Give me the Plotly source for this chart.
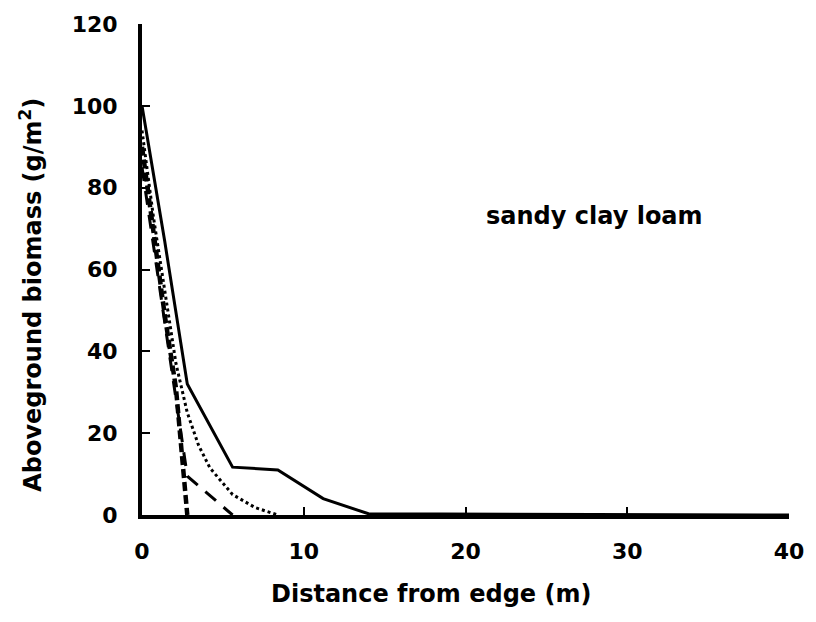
import plotly.graph_objects as go

# Distance from edge (m) and aboveground biomass (g/m^2)
solid_x = [0, 1.4, 2.8, 5.6, 8.4, 11.2, 14, 40]
solid_y = [100, 67, 32, 11.7, 11, 4, 0.3, 0]

dotted_x = [0, 0.7, 1.4, 2.1, 2.8, 3.5, 4.2, 5.6, 7.0, 8.4]
dotted_y = [94, 73, 55, 37, 25, 17, 11.5, 5, 1.8, 0]

heavy_x = [0, 0.7, 1.4, 2.1, 2.8]
heavy_y = [90, 69, 49, 31, 0]

long_x = [0, 0.7, 1.4, 2.1, 2.8, 5.6]
long_y = [85, 66, 47, 28, 9.5, 0]

x_ticks = [0, 10, 20, 30, 40]
y_ticks = [0, 20, 40, 60, 80, 100, 120]

FONT = "DejaVu Sans"

fig = go.Figure()
fig.add_trace(go.Scatter(x=long_x, y=long_y, mode="lines",
                         line=dict(color="black", width=3, dash="14px,10px")))
fig.add_trace(go.Scatter(x=heavy_x, y=heavy_y, mode="lines",
                         line=dict(color="black", width=4.5, dash="9px,4px")))
fig.add_trace(go.Scatter(x=dotted_x, y=dotted_y, mode="lines",
                         line=dict(color="black", width=3, dash="dot")))
fig.add_trace(go.Scatter(x=solid_x, y=solid_y, mode="lines",
                         line=dict(color="black", width=3)))

fig.update_layout(
    width=816, height=622,
    margin=dict(l=142, r=21, t=20, b=107),
    paper_bgcolor="white", plot_bgcolor="white",
    showlegend=False,
    font=dict(family=FONT, color="black"),
    xaxis=dict(range=[0, 40], tickvals=x_ticks, ticks="inside", ticklen=8,
               tickwidth=2, tickcolor="black", showline=True, linewidth=4,
               linecolor="black", showgrid=False, zeroline=False,
               tickfont=dict(family=FONT, size=22, color="black", weight="bold"),
               ticklabelstandoff=14),
    yaxis=dict(range=[0, 120], tickvals=y_ticks, ticks="inside", ticklen=8,
               tickwidth=2, tickcolor="black", showline=True, linewidth=4,
               linecolor="black", showgrid=False, zeroline=False,
               tickfont=dict(family=FONT, size=22, color="black", weight="bold"),
               ticklabelstandoff=16),
)

fig.add_annotation(text="<b>Distance from edge (m)</b>", xref="paper", yref="paper",
                   x=(434 - 142) / 653, y=-(595 - 515) / 495, showarrow=False,
                   font=dict(family=FONT, size=24, color="black"),
                   xanchor="center", yanchor="middle")
fig.add_annotation(text="<b>Aboveground biomass (g/m<sup>2</sup>)</b>", xref="paper", yref="paper",
                   x=(30 - 142) / 653, y=(515 - 293) / 495, showarrow=False,
                   textangle=-90,
                   font=dict(family=FONT, size=24, color="black"),
                   xanchor="center", yanchor="middle")
fig.add_annotation(text="<b>sandy clay loam</b>", x=28, y=73, xref="x", yref="y",
                   showarrow=False, font=dict(family=FONT, size=24, color="black"),
                   xanchor="center", yanchor="middle")

fig.write_html("out.html")
